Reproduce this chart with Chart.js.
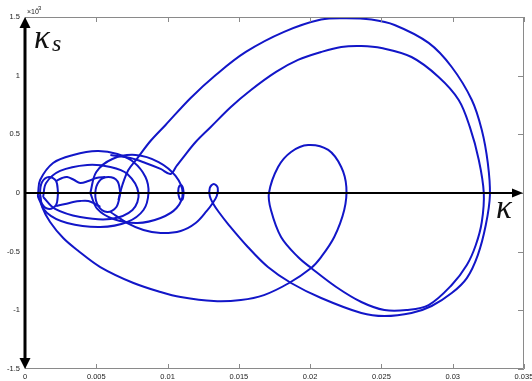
<!DOCTYPE html>
<html>
<head>
<meta charset="utf-8">
<script src="https://cdn.jsdelivr.net/npm/chart.js@4.4.0/dist/chart.umd.min.js"></script>
<style>
  html, body { margin: 0; padding: 0; background: #fff; }
</style>
</head>
<body>
<canvas id="myChart" width="532" height="381"></canvas>
<script>
'use strict';

// curvature k (x) against its derivative k_s (y, in units of 1e-3)
let xTicks = [0, 0.005, 0.01, 0.015, 0.02, 0.025, 0.03, 0.035];
let xLabels = ['0', '0.005', '0.01', '0.015', '0.02', '0.025', '0.03', '0.035'];
let yTicks = [-1.5, -1, -0.5, 0, 0.5, 1, 1.5];
let yLabels = ['-1.5', '-1', '-0.5', '0', '0.5', '1', '1.5'];

// small loops and ovals of the knot near the origin
let leftLoop = [[0.00232, 0], [0.00218, 0.102], [0.00169, 0.136], [0.0012, 0.094], [0.00106, 0],
  [0.0012, -0.094], [0.00169, -0.136], [0.00218, -0.102], [0.00232, 0]];
let midLoop = [[0.00669, 0], [0.00648, 0.102], [0.00585, 0.136], [0.00521, 0.102], [0.00493, 0],
  [0.00514, -0.111], [0.00577, -0.162], [0.00641, -0.119], [0.00669, 0]];
let waveTop = [[0.00218, 0.102], [0.00261, 0.128], [0.00296, 0.136], [0.00345, 0.111], [0.00387, 0.085],
  [0.00444, 0.102], [0.005, 0.128], [0.00563, 0.136]];
let waveBottom = [[0.00218, -0.111], [0.00282, -0.094], [0.00338, -0.077], [0.00387, -0.068],
  [0.00444, -0.068], [0.00493, -0.094], [0.00528, -0.119]];
let ovalA = [[0.00092, 0], [0.00106, 0.111], [0.00197, 0.256], [0.00338, 0.324], [0.00507, 0.358],
  [0.00648, 0.332], [0.00761, 0.264], [0.00845, 0.136], [0.00866, 0], [0.00831, -0.145],
  [0.00718, -0.247], [0.00528, -0.29], [0.00296, -0.256], [0.00155, -0.171], [0.00092, -0.034], [0.00092, 0]];
let ovalB = [[0.00127, -0.034], [0.00148, 0.085], [0.00246, 0.188], [0.00437, 0.239], [0.00599, 0.222],
  [0.00718, 0.162], [0.00796, 0], [0.00754, -0.145], [0.00599, -0.222], [0.00387, -0.205],
  [0.00211, -0.136], [0.00127, -0.034]];
let ovalC = [[0.00458, 0], [0.005, 0.179], [0.00613, 0.29], [0.00775, 0.324], [0.00937, 0.264],
  [0.01056, 0.145], [0.01106, 0], [0.01063, -0.128], [0.00951, -0.213], [0.00789, -0.256],
  [0.0062, -0.222], [0.00507, -0.136], [0.00458, 0]];
let tinyLoop = [[0.01113, 0], [0.01106, 0.051], [0.01092, 0.068], [0.01077, 0.043], [0.01077, -0.017],
  [0.01092, -0.06], [0.01106, -0.051], [0.01113, 0]];

// outer excursion, back through the loop at k = 0.0135
let outerPath = [[0.00655, -0.06], [0.00683, 0.068], [0.00725, 0.196], [0.00789, 0.298], [0.0088, 0.443],
  [0.00986, 0.58], [0.01162, 0.81], [0.01338, 1.006], [0.01549, 1.202], [0.01817, 1.373],
  [0.02077, 1.478], [0.02254, 1.49], [0.0243, 1.478], [0.02592, 1.432], [0.02831, 1.279],
  [0.02993, 1.074], [0.03134, 0.793], [0.03204, 0.537], [0.03246, 0.256], [0.03261, -0.017],
  [0.03232, -0.273], [0.03176, -0.529], [0.03099, -0.725], [0.02993, -0.853], [0.02852, -0.963],
  [0.02711, -1.023], [0.02521, -1.049], [0.02359, -1.023], [0.02077, -0.895], [0.01866, -0.767],
  [0.01704, -0.631], [0.01563, -0.46], [0.0143, -0.273], [0.01359, -0.162], [0.01317, -0.085],
  [0.01296, -0.026], [0.01296, 0.043], [0.01324, 0.077], [0.01352, 0.043], [0.01345, -0.026],
  [0.01317, -0.085], [0.01275, -0.153], [0.01197, -0.256], [0.01092, -0.324], [0.00951, -0.341],
  [0.00831, -0.315], [0.00718, -0.256], [0.00599, -0.162]];

// inner excursion, teardrop at k = 0.02 and the long lower arc home
let innerPath = [[0.00599, 0.324], [0.00739, 0.298], [0.00845, 0.256], [0.00951, 0.205], [0.01021, 0.162],
  [0.01063, 0.23], [0.01106, 0.298], [0.01197, 0.435], [0.01303, 0.563], [0.01444, 0.733],
  [0.01585, 0.878], [0.01761, 1.032], [0.01915, 1.134], [0.02077, 1.202], [0.02218, 1.245],
  [0.02359, 1.253], [0.025, 1.236], [0.02711, 1.159], [0.02901, 0.989], [0.03042, 0.793],
  [0.0312, 0.563], [0.03183, 0.281], [0.03218, 0], [0.03204, -0.247], [0.03162, -0.443],
  [0.03099, -0.614], [0.02993, -0.784], [0.02831, -0.955], [0.02676, -0.997], [0.02521, -0.997],
  [0.02359, -0.929], [0.02183, -0.801], [0.02007, -0.639], [0.01915, -0.546], [0.01796, -0.375],
  [0.01725, -0.145], [0.01711, 0], [0.01775, 0.222], [0.01866, 0.35], [0.01986, 0.409],
  [0.02127, 0.367], [0.02218, 0.222], [0.02254, 0.051], [0.02239, -0.145], [0.02169, -0.375],
  [0.02077, -0.546], [0.02007, -0.639], [0.01852, -0.767], [0.01676, -0.87], [0.01514, -0.912],
  [0.01324, -0.921], [0.01092, -0.887], [0.00951, -0.844], [0.00761, -0.767], [0.00528, -0.631],
  [0.00366, -0.486], [0.00268, -0.384], [0.00176, -0.247], [0.0012, -0.119], [0.00106, -0.017]];

let allPieces = [leftLoop, midLoop, waveTop, waveBottom, ovalA, ovalB, ovalC, tinyLoop, outerPath, innerPath];

function toPoints(list){
  let pts = [];
  for(let i = 0; i < list.length; i++){
    pts.push({x: list[i][0], y: list[i][1]});
  }
  return pts;
}

let datasets = [];
for(let i = 0; i < allPieces.length; i++){
  datasets.push({
    data: toPoints(allPieces[i]),
    showLine: true,
    borderColor: 'rgb(18,22,200)',
    borderWidth: 2,
    pointRadius: 0,
    tension: 0.35,
    fill: false
  });
}

function arrowHead(ctx, tipX, tipY, dx, dy, len, half){
  // dx,dy: unit direction the arrow points to
  ctx.beginPath();
  ctx.moveTo(tipX, tipY);
  ctx.lineTo(tipX - dx * len - dy * half, tipY - dy * len + dx * half);
  ctx.lineTo(tipX - dx * len + dy * half, tipY - dy * len - dx * half);
  ctx.closePath();
  ctx.fill();
}

const arrowAxes = {
  id: 'arrowAxes',
  afterDatasetsDraw(chart){
    const ctx = chart.ctx;
    const a = chart.chartArea;
    const xs = chart.scales.x;
    const ys = chart.scales.y;
    ctx.save();

    // box and inward ticks
    ctx.strokeStyle = '#8a8a8a';
    ctx.lineWidth = 1;
    ctx.beginPath();
    ctx.moveTo(a.left, a.top + 0.5);
    ctx.lineTo(a.right - 0.5, a.top + 0.5);
    ctx.lineTo(a.right - 0.5, a.bottom - 0.5);
    ctx.lineTo(a.left, a.bottom - 0.5);
    for(let i = 0; i < xTicks.length; i++){
      let px = Math.round(xs.getPixelForValue(xTicks[i])) + 0.5;
      ctx.moveTo(px, a.bottom);
      ctx.lineTo(px, a.bottom - 5);
      ctx.moveTo(px, a.top);
      ctx.lineTo(px, a.top + 5);
    }
    for(let i = 0; i < yTicks.length; i++){
      let py = Math.round(ys.getPixelForValue(yTicks[i])) + 0.5;
      ctx.moveTo(a.right, py);
      ctx.lineTo(a.right - 6, py);
    }
    ctx.stroke();

    // black axes with arrow heads
    let x0 = xs.getPixelForValue(0);
    let y0 = ys.getPixelForValue(0);
    ctx.fillStyle = '#000';
    ctx.strokeStyle = '#000';
    ctx.lineWidth = 2;
    ctx.beginPath();
    ctx.moveTo(x0, y0);
    ctx.lineTo(a.right - 9, y0);
    ctx.stroke();
    arrowHead(ctx, a.right - 1, y0, 1, 0, 11, 4.5);

    ctx.lineWidth = 3;
    ctx.beginPath();
    ctx.moveTo(x0, a.top + 8);
    ctx.lineTo(x0, a.bottom - 8);
    ctx.stroke();
    arrowHead(ctx, x0, a.top, 0, -1, 11, 5.5);
    arrowHead(ctx, x0, a.bottom, 0, 1, 11, 5.5);

    // axis names
    ctx.fillStyle = '#111';
    ctx.textBaseline = 'alphabetic';
    ctx.font = 'italic 33px "Liberation Serif"';
    ctx.fillText('\u03ba', 34, 48);
    ctx.font = 'italic 24px "Liberation Serif"';
    ctx.fillText('s', 52, 51);
    ctx.font = 'italic 33px "Liberation Serif"';
    ctx.fillText('\u03ba', 496, 218);

    // exponent of the y axis
    ctx.fillStyle = '#222';
    ctx.font = '7px "Liberation Sans"';
    ctx.fillText('\u00d710', 27, 14);
    ctx.font = '6px "Liberation Sans"';
    ctx.fillText('-3', 36, 10);
    ctx.restore();
  }
};

const ctx = document.getElementById('myChart');

new Chart(ctx, {
  type: 'scatter',
  data: { datasets: datasets },
  options: {
    responsive: false,
    animation: false,
    events: [],
    layout: { padding: { left: 0, right: 8, top: 17, bottom: 0 } },
    plugins: { legend: { display: false }, tooltip: { enabled: false } },
    scales: {
      x: {
        type: 'linear',
        min: 0,
        max: 0.035,
        afterBuildTicks: function(scale){
          scale.ticks = xTicks.map(function(v){ return {value: v}; });
        },
        afterFit: function(scale){
          scale.height = 12;
          scale.paddingLeft = 0;
          scale.paddingRight = 0;
        },
        grid: { display: false, drawTicks: false },
        border: { display: false },
        ticks: {
          autoSkip: false,
          maxRotation: 0,
          padding: 3,
          color: '#222',
          font: { family: 'Liberation Sans', size: 7.5 },
          callback: function(value, index){ return xLabels[index]; }
        }
      },
      y: {
        type: 'linear',
        min: -1.5,
        max: 1.5,
        afterBuildTicks: function(scale){
          scale.ticks = yTicks.map(function(v){ return {value: v}; });
        },
        afterFit: function(scale){
          scale.width = 25;
          scale.paddingTop = 0;
          scale.paddingBottom = 0;
        },
        grid: { display: false, drawTicks: false },
        border: { display: false },
        ticks: {
          autoSkip: false,
          padding: 5,
          color: '#222',
          font: { family: 'Liberation Sans', size: 7.5 },
          callback: function(value, index){ return yLabels[index]; }
        }
      }
    }
  },
  plugins: [arrowAxes]
});
</script>
</body>
</html>
